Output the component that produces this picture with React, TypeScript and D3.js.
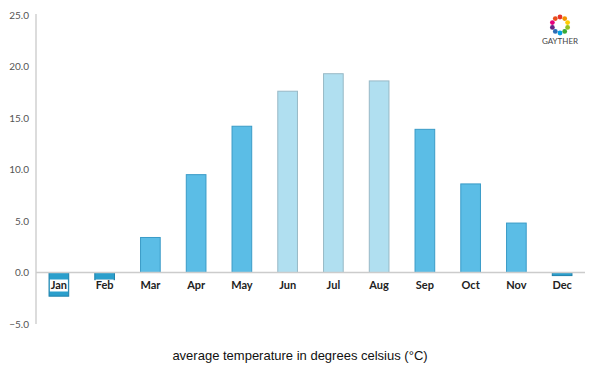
import React from "react";
import * as d3 from "d3";

const months = ["Jan", "Feb", "Mar", "Apr", "May", "Jun", "Jul", "Aug", "Sep", "Oct", "Nov", "Dec"];
const temps = [-2.3, -0.7, 3.4, 9.5, 14.2, 17.6, 19.3, 18.6, 13.9, 8.6, 4.8, -0.3];
const summer = ["Jun", "Jul", "Aug"];
const yTicks = [-5, 0, 5, 10, 15, 20, 25];
const title = "average temperature in degrees celsius (°C)";
const logoColors = ["#e6332a", "#f39200", "#ffcc00", "#95c11f", "#3aaa35", "#009fe3", "#2d6db5", "#662483", "#e5007d", "#e94e1b"];

const W = 600, H = 375;
const left = 36, right = 585, top = 15, bottom = 324;

export default function App() {
  const x = d3.scaleBand<string>().domain(months).range([left, right]).paddingInner(0.57).paddingOuter(0.285);
  const y = d3.scaleLinear().domain([-5, 25]).range([bottom, top]);
  const fmt = d3.format(".1f");
  const cx = 560, cy = 25, r = 8;
  return (
    <svg width={W} height={H} style={{ position: "absolute", left: 0, top: 0, background: "#fff" }}>
      {/* y axis */}
      <line x1={left} x2={left} y1={top - 1} y2={bottom} stroke="#d0d0d0" strokeWidth={1.5} />
      {yTicks.map((t) => (
        <text key={t} x={29} y={y(t)} dy="0.35em" textAnchor="end" fontSize={10} fill="#555" fontFamily="Lato, sans-serif">
          {fmt(t)}
        </text>
      ))}
      {/* bars */}
      {months.map((m, i) => {
        const v = temps[i];
        const neg = v < 0;
        const light = summer.includes(m);
        const fill = neg ? "#2b9fcc" : light ? "#b0dff0" : "#5bbde6";
        const stroke = neg ? "#1f81ab" : light ? "#98b9c6" : "#3a9bc7";
        const y0 = y(0), y1 = y(v);
        return (
          <rect key={m} x={x(m)!} width={x.bandwidth()} y={Math.min(y0, y1)} height={Math.abs(y1 - y0)}
            fill={fill} stroke={stroke} strokeWidth={1} />
        );
      })}
      {/* zero line */}
      <line x1={left} x2={right} y1={y(0)} y2={y(0)} stroke="#cccccc" strokeWidth={1.5} />
      {/* x labels with white background */}
      {months.map((m) => {
        const c = x(m)! + x.bandwidth() / 2;
        return (
          <g key={m}>
            <rect x={c - 9} y={y(0) + 7} width={18} height={12} fill="#fff" />
            <text x={c} y={y(0) + 13} dy="0.35em" textAnchor="middle" fontSize={11} fontWeight={700} fill="#222" fontFamily="Lato, sans-serif">
              {m}
            </text>
          </g>
        );
      })}
      {/* logo */}
      <g>
        {logoColors.map((c, i) => {
          const a = (i / logoColors.length) * Math.PI * 2 - Math.PI / 2;
          return <circle key={i} cx={cx + r * Math.cos(a)} cy={cy + r * Math.sin(a)} r={2.4} fill={c} />;
        })}
        <text x={cx} y={41} dy="0.35em" textAnchor="middle" fontSize={8} fill="#444" fontFamily="Lato, sans-serif">GAYTHER</text>
      </g>
      {/* title */}
      <text x={300} y={355} dy="0.35em" textAnchor="middle" fontSize={13} fill="#111" fontFamily="'Liberation Sans', Arial, sans-serif">
        {title}
      </text>
    </svg>
  );
}
